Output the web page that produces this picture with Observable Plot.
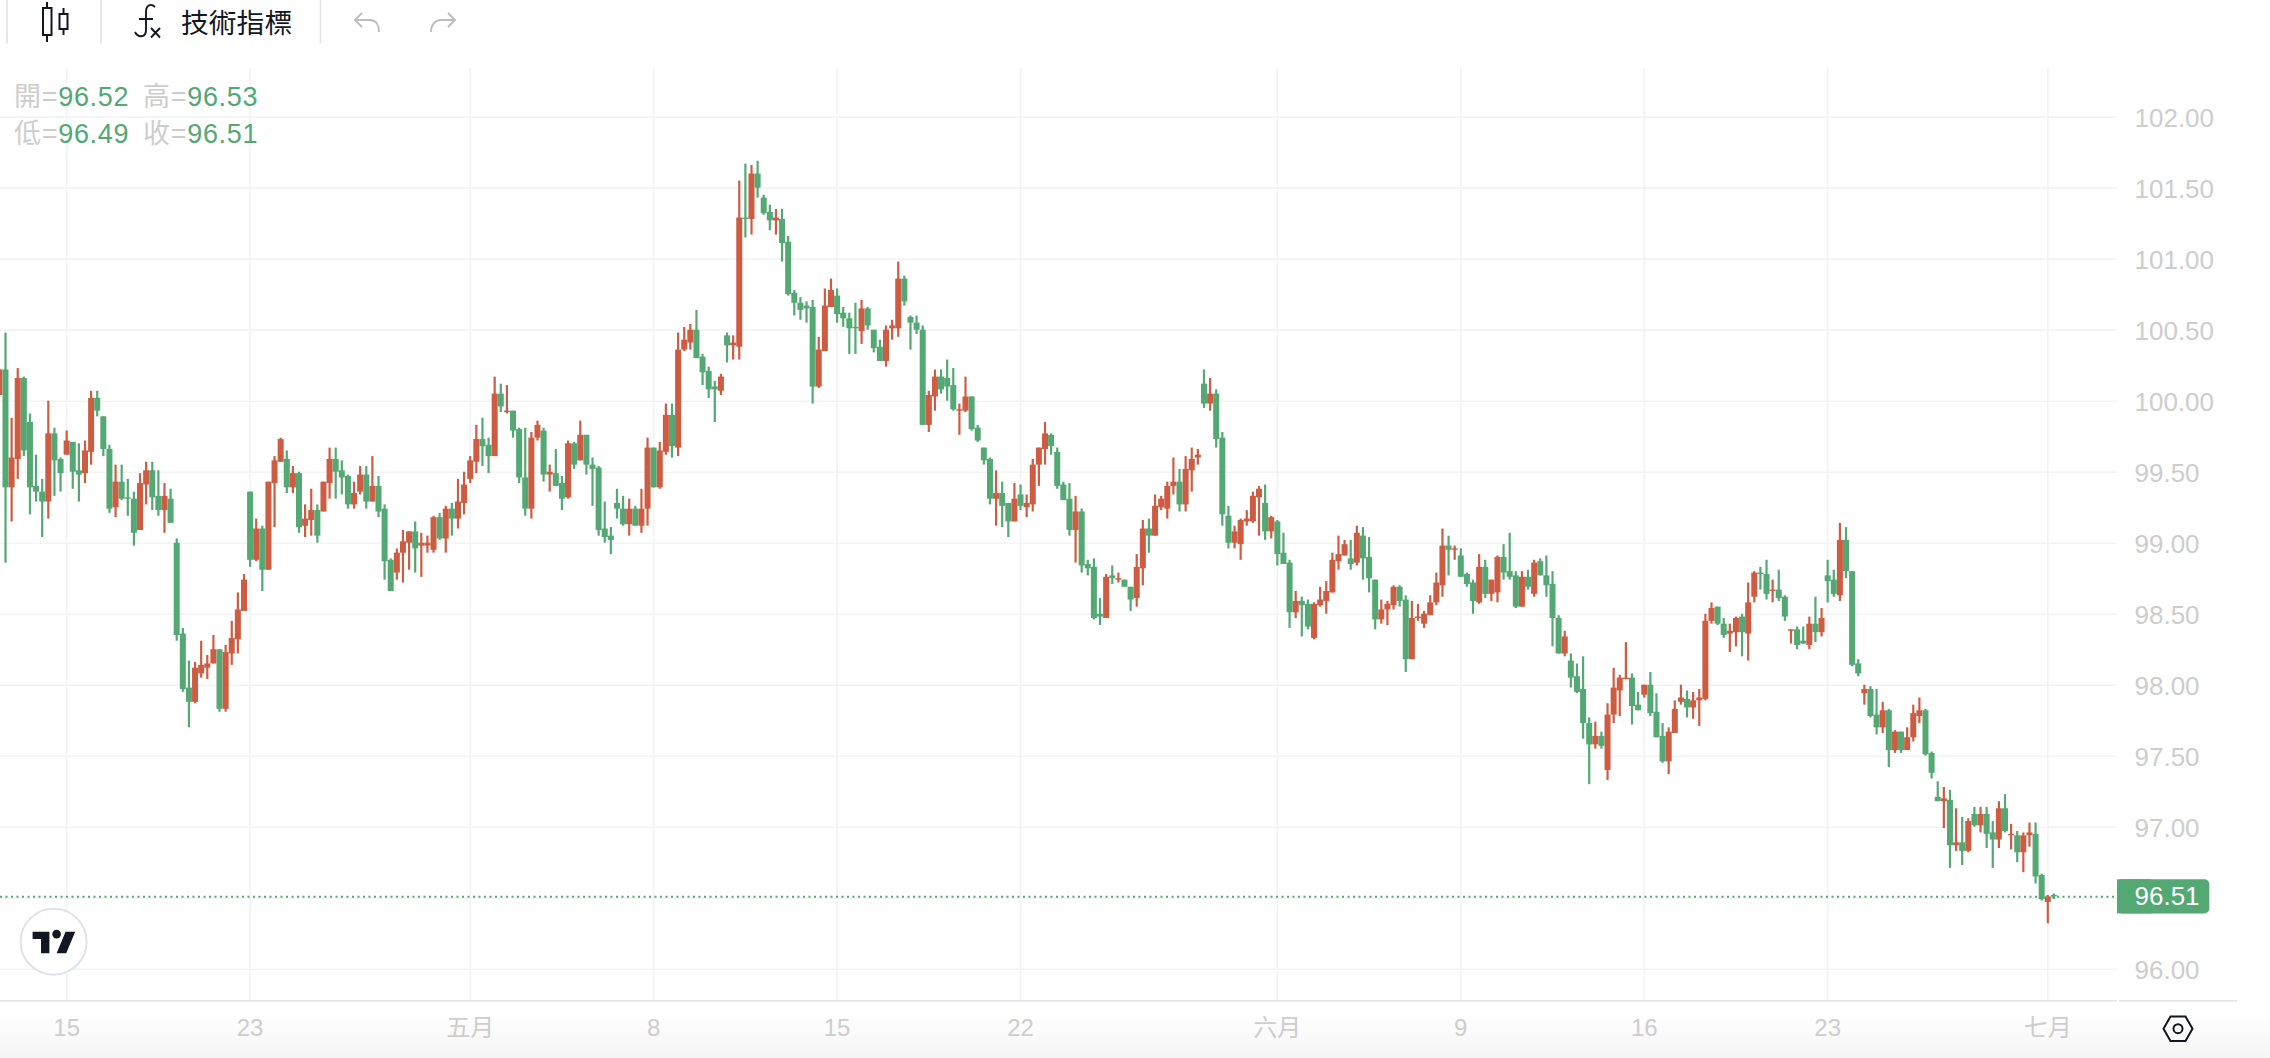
<!DOCTYPE html>
<html lang="zh-Hant">
<head>
<meta charset="utf-8">
<title>K線圖</title>
<script src="https://cdn.jsdelivr.net/npm/d3@7"></script>
<script src="https://cdn.jsdelivr.net/npm/@observablehq/plot@0.6"></script>
<style>
html,body{margin:0;padding:0;background:#fff;overflow:hidden}
#wrap{position:relative;width:2270px;height:1058px;font-family:"Liberation Sans","Noto Sans CJK TC",sans-serif;
background:linear-gradient(to bottom,#fff 1012px,#f5f5f5 1058px)}
#wrap svg{position:absolute;left:0;top:0;background:transparent}
.t{position:absolute;white-space:nowrap;line-height:1;transform:translateY(-50%)}
</style>
</head>
<body>
<div id="wrap"></div>
<script>
const opens=[
100.04,100.22,99.39,99.59,100.16,99.85,99.40,99.36,99.29,99.77,
99.59,99.62,99.71,99.51,99.49,99.64,100.02,99.89,99.66,99.25,
99.43,99.32,99.31,99.09,99.41,99.51,99.33,99.23,99.31,99.00,
98.36,97.98,97.88,98.08,98.12,98.15,98.25,97.83,98.22,98.32,
98.52,99.36,98.88,99.10,98.81,99.42,99.57,99.59,99.39,99.49,
99.12,99.16,99.23,99.22,99.42,99.59,99.51,99.47,99.27,99.36,
99.48,99.29,99.40,99.24,98.88,98.79,98.93,99.00,99.08,98.98,
98.98,98.95,99.18,99.03,99.24,99.17,99.28,99.45,99.57,99.73,
99.69,99.61,100.05,99.92,99.93,99.80,99.46,99.24,99.74,99.79,
99.48,99.49,99.42,99.32,99.70,99.58,99.76,99.55,99.53,99.10,
99.05,99.28,99.24,99.13,99.24,99.12,99.24,99.67,99.39,99.64,
99.90,99.67,100.36,100.41,100.50,100.31,100.21,100.10,100.07,100.46,
100.39,100.38,101.29,101.28,101.60,101.43,101.33,101.27,101.28,101.12,
100.76,100.69,100.67,100.66,100.10,100.35,100.66,100.74,100.62,100.58,
100.52,100.49,100.65,100.50,100.38,100.28,100.51,100.51,100.86,100.59,
100.55,100.50,99.83,100.03,100.17,100.16,100.11,99.93,99.93,100.03,
99.81,99.67,99.59,99.31,99.35,99.28,99.15,99.34,99.25,99.27,
99.55,99.66,99.76,99.64,99.41,99.31,99.09,99.22,98.85,98.83,
98.50,98.47,98.77,98.74,98.74,98.69,98.61,98.82,99.10,99.05,
99.25,99.24,99.40,99.43,99.27,99.51,99.60,100.12,99.98,100.05,
99.74,99.19,99.00,98.99,99.15,99.15,99.32,99.28,99.08,99.15,
98.93,98.86,98.51,98.59,98.57,98.33,98.56,98.59,98.65,98.87,
98.91,98.89,98.86,99.05,98.90,98.74,98.46,98.53,98.56,98.69,
98.60,98.18,98.47,98.43,98.49,98.58,98.70,98.98,98.95,98.91,
98.78,98.72,98.58,98.83,98.64,98.65,98.90,98.80,98.77,98.55,
98.76,98.64,98.87,98.77,98.71,98.47,98.22,98.17,98.06,97.97,
97.73,97.58,97.64,97.40,97.79,97.96,98.04,98.05,97.86,97.93,
98.00,97.81,97.64,97.46,97.66,97.88,97.90,97.84,97.89,97.90,
98.45,98.55,98.43,98.36,98.37,98.48,98.36,98.62,98.79,98.78,
98.66,98.67,98.62,98.38,98.39,98.31,98.28,98.43,98.37,98.77,
98.74,98.63,99.02,98.80,98.15,97.94,97.97,97.79,97.70,97.82,
97.54,97.67,97.54,97.63,97.78,97.82,97.52,97.21,97.18,97.19,
96.87,96.89,96.83,97.09,97.01,97.09,96.96,96.91,97.13,96.94,
96.94,96.82,96.94,96.95,96.66,96.47,96.52];
const closes=[
100.22,99.39,99.60,100.16,99.65,99.39,99.36,99.29,99.77,99.58,
99.49,99.72,99.50,99.48,99.65,100.02,99.93,99.66,99.24,99.43,
99.31,99.31,99.07,99.42,99.51,99.32,99.23,99.33,99.14,98.35,
97.97,97.88,98.12,98.14,98.15,98.25,97.83,98.23,98.33,98.53,
98.74,98.88,99.10,98.81,99.43,99.58,99.73,99.39,99.49,99.11,
99.17,99.23,99.05,99.43,99.59,99.50,99.46,99.27,99.35,99.48,
99.29,99.40,99.22,98.87,98.66,98.93,99.01,99.08,98.96,99.00,
99.00,99.18,99.03,99.24,99.17,99.29,99.41,99.58,99.73,99.68,
99.61,100.05,99.96,99.93,99.79,99.46,99.24,99.74,99.83,99.48,
99.50,99.40,99.31,99.70,99.55,99.76,99.55,99.52,99.09,99.04,
99.02,99.24,99.13,99.24,99.12,99.24,99.67,99.39,99.65,99.90,
99.68,100.36,100.43,100.50,100.30,100.20,100.08,100.08,100.17,100.39,
100.41,101.29,101.28,101.60,101.50,101.32,101.27,101.29,101.11,100.75,
100.69,100.64,100.65,100.10,100.36,100.67,100.78,100.61,100.58,100.51,
100.51,100.65,100.53,100.37,100.28,100.50,100.53,100.86,100.70,100.55,
100.50,99.83,100.04,100.17,100.08,100.10,99.94,99.94,100.03,99.80,
99.72,99.58,99.31,99.35,99.26,99.15,99.31,99.26,99.28,99.55,
99.67,99.77,99.68,99.40,99.30,99.09,99.22,98.84,98.82,98.47,
98.48,98.76,98.75,98.75,98.69,98.60,98.83,99.10,99.05,99.26,
99.31,99.40,99.43,99.27,99.52,99.59,99.62,99.98,100.05,99.73,
99.20,99.00,99.08,99.16,99.17,99.33,99.38,99.08,99.18,98.92,
98.85,98.51,98.59,98.56,98.41,98.57,98.60,98.66,98.88,98.92,
98.99,98.85,99.07,98.89,98.75,98.46,98.53,98.57,98.69,98.59,
98.18,98.47,98.48,98.50,98.58,98.72,98.98,98.95,98.96,98.76,
98.71,98.59,98.83,98.64,98.74,98.90,98.79,98.76,98.55,98.76,
98.69,98.86,98.77,98.70,98.47,98.22,98.34,98.05,97.95,97.73,
97.58,97.64,97.57,97.79,97.98,98.05,98.05,97.85,97.82,98.00,
97.80,97.63,97.46,97.67,97.83,97.91,97.84,97.89,97.91,98.45,
98.54,98.43,98.35,98.38,98.47,98.37,98.58,98.79,98.78,98.64,
98.67,98.61,98.48,98.39,98.28,98.29,98.43,98.37,98.47,98.73,
98.64,99.02,98.80,98.14,98.08,97.97,97.78,97.70,97.82,97.54,
97.67,97.54,97.63,97.80,97.82,97.51,97.38,97.18,97.20,96.87,
96.89,96.83,97.04,97.01,97.09,96.95,96.91,97.13,96.97,96.95,
96.82,96.94,96.96,96.65,96.49,96.51,96.51];
const highs=[
100.22,100.48,99.88,100.23,100.17,99.91,99.62,99.45,100.00,99.81,
99.60,99.79,99.71,99.70,99.72,100.07,100.07,99.89,99.69,99.55,
99.55,99.45,99.36,99.49,99.57,99.57,99.51,99.42,99.38,99.03,
98.40,98.17,98.16,98.31,98.21,98.35,98.25,98.28,98.45,98.65,
98.78,99.36,99.17,99.12,99.43,99.61,99.74,99.65,99.54,99.50,
99.27,99.38,99.27,99.43,99.67,99.67,99.58,99.48,99.43,99.54,
99.54,99.61,99.47,99.27,98.89,98.96,99.09,99.08,99.15,99.07,
99.05,99.19,99.21,99.26,99.28,99.45,99.50,99.61,99.83,99.88,
99.74,100.17,100.12,100.11,99.93,99.81,99.81,99.78,99.86,99.81,
99.55,99.66,99.47,99.72,99.71,99.86,99.76,99.60,99.54,99.29,
99.11,99.38,99.33,99.31,99.26,99.38,99.74,99.67,99.71,99.98,
99.98,100.48,100.52,100.54,100.64,100.33,100.24,100.14,100.19,100.48,
100.46,101.55,101.67,101.66,101.69,101.45,101.38,101.35,101.35,101.16,
100.78,100.73,100.70,100.71,100.45,100.79,100.86,100.79,100.66,100.62,
100.69,100.71,100.66,100.50,100.43,100.53,100.57,100.98,100.88,100.60,
100.60,100.53,100.07,100.22,100.22,100.29,100.23,99.98,100.17,100.03,
99.83,99.67,99.60,99.51,99.43,99.28,99.42,99.41,99.34,99.59,
99.67,99.85,99.77,99.67,99.43,99.42,99.33,99.24,98.88,98.89,
98.61,98.78,98.84,98.79,98.74,98.69,98.92,99.16,99.17,99.34,
99.33,99.43,99.60,99.52,99.61,99.67,99.66,100.22,100.16,100.08,
99.78,99.26,99.12,99.17,99.23,99.36,99.40,99.41,99.19,99.16,
99.07,98.88,98.66,98.62,98.60,98.58,98.69,98.73,98.93,99.05,
99.02,99.02,99.12,99.11,99.04,98.74,98.60,98.59,98.70,98.70,
98.63,98.59,98.57,98.52,98.63,98.79,99.10,99.05,98.98,98.96,
98.79,98.74,98.92,98.88,98.74,98.91,98.99,99.07,98.80,98.80,
98.81,98.88,98.89,98.91,98.80,98.49,98.38,98.22,98.15,98.20,
97.77,97.74,97.67,97.87,98.12,98.07,98.30,98.08,97.95,98.00,
98.09,97.94,97.73,97.70,97.89,98.00,97.96,97.95,97.97,98.50,
98.58,98.55,98.47,98.43,98.48,98.50,98.72,98.80,98.83,98.88,
98.74,98.81,98.63,98.39,98.41,98.41,98.48,98.62,98.54,98.88,
98.81,99.14,99.11,98.80,98.18,98.00,97.99,97.97,97.88,97.83,
97.68,97.67,97.70,97.86,97.91,97.83,97.53,97.32,97.28,97.26,
97.13,97.07,97.06,97.14,97.14,97.14,97.04,97.18,97.23,97.02,
96.97,96.96,97.03,97.03,96.67,96.52,96.53];
const lows=[
100.04,98.86,99.15,99.45,99.61,99.20,99.29,99.04,99.17,99.33,
99.36,99.62,99.38,99.29,99.42,99.55,99.89,99.61,99.21,99.18,
99.30,99.19,98.98,99.09,99.27,99.23,99.19,99.07,99.14,98.31,
97.95,97.70,97.87,98.05,98.04,98.15,97.81,97.81,98.14,98.22,
98.52,98.83,98.87,98.66,98.81,99.11,99.57,99.35,99.35,99.07,
99.04,99.05,99.00,99.22,99.31,99.31,99.34,99.24,99.24,99.34,
99.24,99.29,99.18,98.74,98.66,98.74,98.72,98.81,98.79,98.76,
98.93,98.93,99.02,98.93,99.05,99.10,99.20,99.42,99.49,99.54,
99.49,99.61,99.92,99.91,99.74,99.42,99.19,99.17,99.72,99.43,
99.36,99.40,99.23,99.31,99.52,99.58,99.48,99.26,99.05,99.00,
98.92,99.17,99.12,99.05,99.12,99.07,99.12,99.39,99.38,99.62,
99.60,99.61,100.35,100.36,100.30,100.11,100.02,99.85,100.04,100.27,
100.29,100.29,101.15,101.17,101.43,101.31,101.20,101.17,100.98,100.74,
100.60,100.57,100.55,99.98,100.09,100.35,100.66,100.55,100.52,100.33,
100.33,100.40,100.50,100.34,100.28,100.24,100.43,100.45,100.67,100.36,
100.47,99.83,99.78,99.93,100.05,100.00,99.93,99.76,99.92,99.79,
99.71,99.55,99.27,99.12,99.11,99.04,99.15,99.23,99.18,99.22,
99.40,99.55,99.62,99.38,99.30,99.05,98.86,98.79,98.77,98.46,
98.42,98.47,98.71,98.72,98.69,98.52,98.55,98.70,98.93,99.05,
99.23,99.17,99.34,99.22,99.22,99.36,99.55,99.95,99.93,99.67,
99.12,98.96,98.96,98.88,99.12,99.14,99.05,99.02,99.03,98.84,
98.85,98.40,98.47,98.34,98.39,98.32,98.55,98.50,98.65,98.81,
98.91,98.81,98.84,98.74,98.65,98.39,98.43,98.42,98.53,98.55,
98.09,98.18,98.45,98.40,98.49,98.56,98.62,98.77,98.88,98.76,
98.69,98.50,98.57,98.61,98.59,98.58,98.74,98.74,98.54,98.55,
98.67,98.62,98.77,98.62,98.27,98.22,98.20,97.98,97.94,97.62,
97.30,97.55,97.55,97.33,97.73,97.78,98.04,97.72,97.82,97.91,
97.78,97.63,97.45,97.37,97.66,97.86,97.77,97.76,97.71,97.89,
98.43,98.42,98.33,98.23,98.27,98.20,98.17,98.58,98.67,98.60,
98.58,98.59,98.45,98.29,98.25,98.29,98.25,98.30,98.34,98.58,
98.62,98.59,98.75,98.13,98.06,97.86,97.77,97.65,97.66,97.42,
97.52,97.52,97.54,97.60,97.73,97.50,97.34,97.18,96.99,96.71,
96.83,96.73,96.82,97.00,96.96,96.85,96.71,96.85,96.96,96.84,
96.75,96.68,96.86,96.60,96.48,96.32,96.49];

const priceTicks=[96,96.5,97,97.5,98,98.5,99,99.5,100,100.5,101,101.5,102];
const labelTicks=[96,96.5,97,97.5,98,98.5,99,99.5,100,100.5,101,101.5,102].filter(d=>d!==96.5);
const dateTickBars=[11,41,77,107,137,167,209,239,269,299,335];
const dateTickLabels=["15","23","五月","8","15","22","六月","9","16","23","七月"];
const legendLabels=["開","高","低","收"];
const legendValues=["96.52","96.53","96.49","96.51"];

const GREEN="#53a873",RED="#cd5c42",GRID="#f2f3f4",LABEL="#cdcdcd",LINE="#e0e3eb",INK="#131722";
const bars=opens.map((o,i)=>({i,o,c:closes[i],h:highs[i],l:lows[i],dir:closes[i]>o?"up":"down"}));
const last=bars[bars.length-1].c;
const tickLabel=new Map(dateTickBars.map((b,k)=>[b,dateTickLabels[k]]));
const font='"Liberation Sans","Noto Sans CJK TC",sans-serif';

const chart=Plot.plot({
  width:2270,height:1058,
  marginLeft:0,marginRight:153,marginTop:68,marginBottom:58,
  style:{fontFamily:font,background:"transparent"},
  x:{domain:[0.182,346.4],axis:null},
  y:{domain:[95.78,102.343],axis:null},
  color:{domain:["up","down"],range:[RED,GREEN]},
  marks:[
    Plot.gridY(priceTicks,{stroke:GRID,strokeOpacity:1,strokeWidth:1.7}),
    Plot.gridX(dateTickBars,{stroke:GRID,strokeOpacity:1,strokeWidth:1.7}),
    Plot.ruleX(bars,{x:"i",y1:"l",y2:"h",stroke:"dir",strokeWidth:2.2}),
    Plot.ruleX(bars,{x:"i",y1:"o",y2:"c",stroke:"dir",strokeWidth:6}),
    Plot.ruleY([last],{stroke:GREEN,strokeWidth:2,strokeDasharray:"2,3.5"}),
    Plot.axisY({anchor:"right",ticks:labelTicks,tickSize:0,tickPadding:17,tickFormat:d=>d.toFixed(2),fill:LABEL,fontSize:26,label:null,textAnchor:"start",dy:1}),
    Plot.axisX({anchor:"bottom",ticks:dateTickBars,tickSize:0,tickPadding:18,tickFormat:d=>tickLabel.get(d),fill:LABEL,fontSize:24,label:null}),
    Plot.rect([last],{x1:346.4,x2:361.5,y1:d=>d-0.12,y2:d=>d+0.12,fill:GREEN,rx:5,clip:false}),
    Plot.rect([last],{x1:346.4,x2:352,y1:d=>d-0.12,y2:d=>d+0.12,fill:GREEN,clip:false}),
    Plot.text([last],{y:d=>d,frameAnchor:"right",dx:17,textAnchor:"start",text:d=>d.toFixed(2),fill:"#fff",fontSize:26})
  ]
});
const wrap=document.getElementById("wrap");
wrap.appendChild(chart);

// legend text
const legendPos=[[14,97],[143,97],[14,134],[143,134]];
legendLabels.forEach((lab,k)=>{
  const s=document.createElement("div");
  s.className="t";
  s.style.cssText=`left:${legendPos[k][0]}px;top:${legendPos[k][1]}px;font-size:27px;letter-spacing:.7px;color:${LABEL}`;
  s.innerHTML=`${lab}=<span style="color:${GREEN}">${legendValues[k]}</span>`;
  wrap.appendChild(s);
});
// toolbar label
const tb=document.createElement("div");
tb.className="t";
tb.style.cssText=`left:181px;top:22px;font-size:27.8px;color:${INK};font-family:"Noto Sans CJK TC"`;
tb.textContent="技術指標";
wrap.appendChild(tb);

// chrome icons
const ns="http://www.w3.org/2000/svg";
const ov=document.createElementNS(ns,"svg");
ov.setAttribute("width",2270);ov.setAttribute("height",1058);
ov.innerHTML=`
<g stroke="${LINE}" stroke-width="1.6" fill="none">
 <path d="M7 0V43.5M101 0V43.5M320.5 0V43.5"/>
 <path d="M0 1000.7H2117M2119 1000.7H2237"/>
</g>
<g stroke="${INK}" stroke-width="2" fill="none">
 <path d="M47 2V8M47 35V42"/><rect x="43" y="8" width="8.5" height="27"/>
 <path d="M63.5 8V14M63.5 29V35"/><rect x="59.5" y="14" width="8" height="15"/>
 <path d="M155 7C151 3 146 5 146 12V30C146 38 138 38 135 32M139 19H153" stroke-width="1.9"/>
 <path d="M151 28L160 37.5M160 28L151 37.5" stroke-width="1.9"/>
 <path d="M2163.5 1028.7L2170.5 1016.5H2185.5L2192.5 1028.7L2185.5 1041H2170.5Z"/>
 <circle cx="2178" cy="1028.7" r="4.5"/>
</g>
<g stroke="#bbbcc0" stroke-width="1.8" fill="none">
 <path d="M362 13L355 20L362 27M355 20H370C376 20 379 25 379 32"/>
 <path d="M448 13L455 20L448 27M455 20H441C435 20 431 25 431 32"/>
</g>
<circle cx="53.6" cy="941.7" r="33" fill="#fff" stroke="${LINE}" stroke-width="2"/>
<g transform="translate(32.6,924.5) scale(1.2)" fill="${INK}">
 <path d="M14 6H0v6h7v12h7V6zM28 24h-8l7.5-18h8L28 24z"/><circle cx="20" cy="8" r="3.6"/>
</g>`;
wrap.appendChild(ov);
</script>
</body>
</html>
